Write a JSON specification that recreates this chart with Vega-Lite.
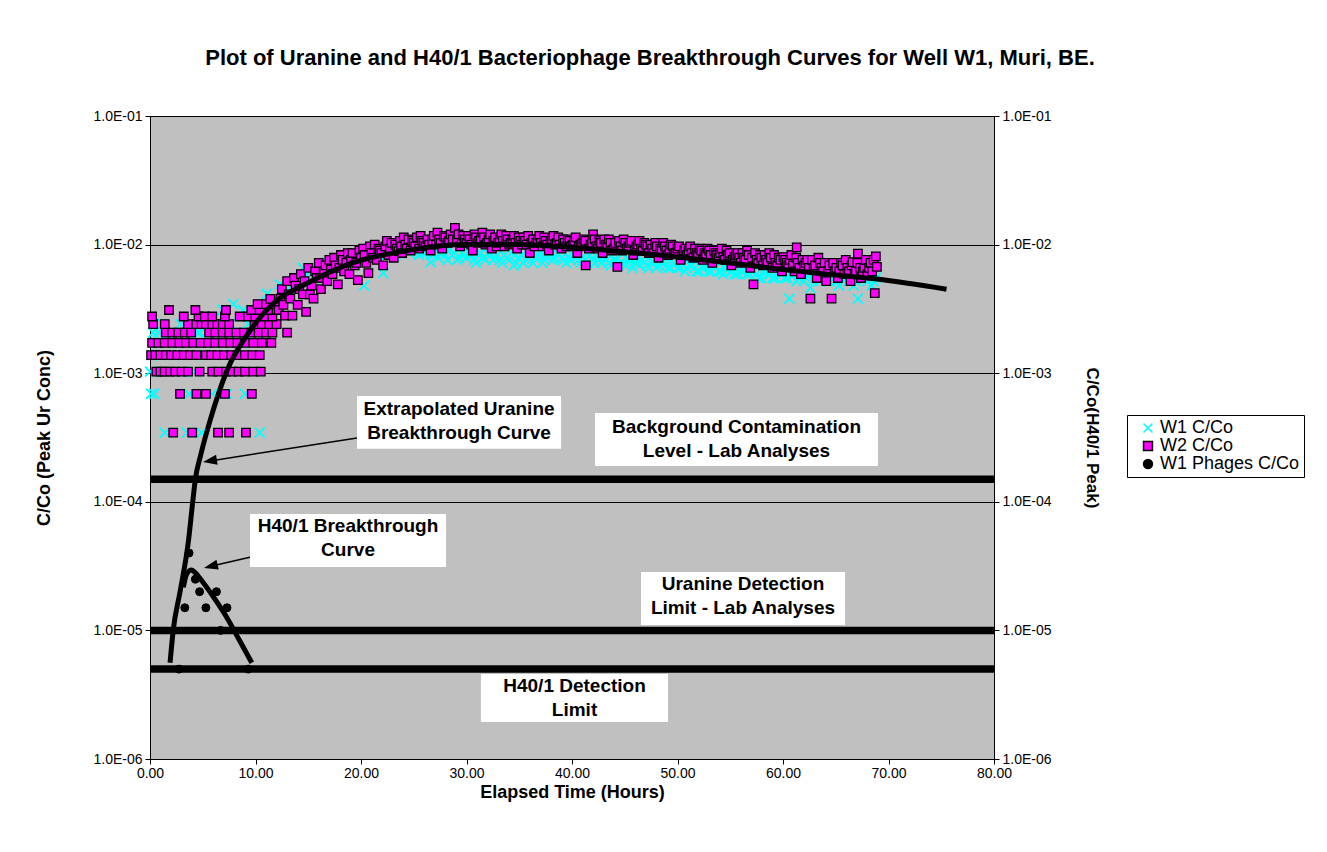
{
"$schema": "https://vega.github.io/schema/vega-lite/v6.json",
"width": 844, "height": 643,
"autosize": {"type": "none"},
"padding": {"left": 150, "top": 116, "right": 333, "bottom": 93},
"background": "white",
"title": {"text": "Plot of Uranine and H40/1 Bacteriophage Breakthrough Curves for Well W1, Muri, BE.", "fontSize": 22, "font": "Liberation Sans", "fontWeight": "bold", "color": "black", "anchor": "middle", "frame": "group", "dx": 78, "offset": 39},
"config": {
  "view": {"stroke": "black", "fill": "#C0C0C0"},
  "axis": {"domainColor": "black", "domainWidth": 1, "tickColor": "black", "labelColor": "black", "titleColor": "black", "labelFont": "Liberation Sans", "titleFont": "Liberation Sans", "labelFontSize": 14, "titleFontSize": 18, "titleFontWeight": "bold", "tickSize": 5, "labelPadding": 3, "labelFlush": false},
  "legend": {"orient": "none", "legendX": 977, "legendY": 299, "strokeColor": "black", "fillColor": "white", "padding": 4, "symbolOffset": 8, "labelOffset": 3, "labelFontSize": 18, "labelFont": "Liberation Sans", "labelColor": "black", "symbolSize": 80, "symbolStrokeWidth": 1.5, "rowPadding": 0}
},
"datasets": {
"w1": [
{"t":0.0,"v":0.00103},{"t":0.1,"v":0.00069},{"t":0.2,"v":0.00138},{"t":0.3,"v":0.00207},{"t":0.4,"v":0.00069},{"t":0.6,"v":0.00172},{"t":0.8,"v":0.00207},{"t":1.0,"v":0.00138},{"t":1.2,"v":0.00241},{"t":1.4,"v":0.000345},{"t":1.7,"v":0.00172},{"t":2.0,"v":0.00207},{"t":2.3,"v":0.00138},{"t":2.6,"v":0.00172},{"t":2.9,"v":0.00241},{"t":3.2,"v":0.00103},{"t":3.5,"v":0.000345},{"t":3.7,"v":0.00069},{"t":4.0,"v":0.00172},{"t":4.3,"v":0.00103},{"t":4.5,"v":0.00207},{"t":4.7,"v":0.00207},{"t":4.9,"v":0.000345},{"t":5.2,"v":0.00138},{"t":5.5,"v":0.00241},{"t":5.9,"v":0.00069},{"t":6.2,"v":0.00172},{"t":6.6,"v":0.00207},{"t":6.9,"v":0.0031},{"t":7.0,"v":0.00138},{"t":7.3,"v":0.00069},{"t":7.6,"v":0.00241},{"t":7.9,"v":0.00345},{"t":8.3,"v":0.00207},{"t":8.7,"v":0.00172},{"t":8.8,"v":0.0031},{"t":9.0,"v":0.00069},{"t":9.3,"v":0.00241},{"t":9.6,"v":0.00276},{"t":10.0,"v":0.00207},{"t":10.4,"v":0.000345},{"t":10.8,"v":0.0031},{"t":11.1,"v":0.00414},{"t":11.5,"v":0.00345},{"t":11.9,"v":0.0031},
{"t":12.3,"v":0.0049},{"t":12.5,"v":0.0045},{"t":12.7,"v":0.0038},{"t":13.1,"v":0.0041},{"t":13.35,"v":0.0048},{"t":13.6,"v":0.0052},{"t":13.85,"v":0.0055},{"t":14.0,"v":0.0046},{"t":14.25,"v":0.0052},{"t":14.5,"v":0.0066},{"t":14.7,"v":0.0059},{"t":14.9,"v":0.0055},{"t":15.15,"v":0.0062},{"t":15.4,"v":0.005},{"t":15.6,"v":0.0055},{"t":15.8,"v":0.0062},{"t":16.05,"v":0.0066},{"t":16.3,"v":0.0058},{"t":16.5,"v":0.0062},{"t":16.7,"v":0.0069},{"t":16.95,"v":0.0072},{"t":17.2,"v":0.0062},{"t":17.4,"v":0.0066},{"t":17.6,"v":0.007},{"t":17.85,"v":0.0076},{"t":18.1,"v":0.0066},{"t":18.3,"v":0.0072},{"t":18.5,"v":0.0076},{"t":18.75,"v":0.0069},{"t":19.0,"v":0.0072},{"t":19.2,"v":0.0079},{"t":19.4,"v":0.0069},{"t":19.65,"v":0.0076},{"t":19.9,"v":0.0083},{"t":20.1,"v":0.0083},{"t":20.3,"v":0.0048},{"t":20.55,"v":0.0079},{"t":20.8,"v":0.0076},{"t":21.0,"v":0.0083},{"t":21.2,"v":0.0086},{"t":21.45,"v":0.0079},{"t":21.7,"v":0.0083},{"t":21.9,"v":0.0086},{"t":22.1,"v":0.006},{"t":22.35,"v":0.0083},{"t":22.6,"v":0.009},{"t":22.8,"v":0.009},{"t":23.0,"v":0.0086},{"t":23.25,"v":0.0083},{"t":23.5,"v":0.0093},{"t":23.7,"v":0.0086},{"t":23.9,"v":0.009},{"t":24.15,"v":0.0093},{"t":24.4,"v":0.0097},{"t":24.6,"v":0.0086},{"t":24.8,"v":0.0093},{"t":25.05,"v":0.009},{"t":25.3,"v":0.01},{"t":25.5,"v":0.0083},{"t":25.7,"v":0.009},{"t":25.95,"v":0.0086},{"t":26.2,"v":0.0086},{"t":26.4,"v":0.009},{"t":26.6,"v":0.0073},{"t":26.85,"v":0.0083},{"t":27.1,"v":0.009},{"t":27.3,"v":0.0079},{"t":27.5,"v":0.0086},{"t":27.75,"v":0.0086},{"t":28.0,"v":0.0083},{"t":28.2,"v":0.0076},{"t":28.4,"v":0.0093},{"t":28.65,"v":0.0083},{"t":28.9,"v":0.0086},{"t":29.1,"v":0.0076},{"t":29.3,"v":0.0079},{"t":29.55,"v":0.0086},{"t":29.8,"v":0.0083},{"t":30.0,"v":0.0079},{"t":30.2,"v":0.0086},{"t":30.45,"v":0.0083},{"t":30.7,"v":0.0076},{"t":30.9,"v":0.0072},{"t":31.1,"v":0.0083},{"t":31.35,"v":0.0086},{"t":31.6,"v":0.0079},{"t":31.8,"v":0.0076},{"t":32.0,"v":0.0086},{"t":32.25,"v":0.0083},{"t":32.5,"v":0.0076},{"t":32.7,"v":0.0079},{"t":32.9,"v":0.0083},{"t":33.15,"v":0.0076},{"t":33.4,"v":0.0072},{"t":33.6,"v":0.0083},{"t":33.8,"v":0.0079},{"t":34.05,"v":0.0076},{"t":34.3,"v":0.0086},{"t":34.5,"v":0.0069},{"t":34.7,"v":0.0072},{"t":34.95,"v":0.0079},{"t":35.2,"v":0.0083},{"t":35.4,"v":0.0072},{"t":35.6,"v":0.0076},{"t":35.85,"v":0.0079},{"t":36.1,"v":0.0083},{"t":36.3,"v":0.0072},{"t":36.5,"v":0.0079},{"t":36.75,"v":0.0083},{"t":37.0,"v":0.0086},{"t":37.2,"v":0.0072},{"t":37.4,"v":0.0076},{"t":37.65,"v":0.0079},{"t":37.9,"v":0.0083},{"t":38.1,"v":0.0076},{"t":38.3,"v":0.0079},{"t":38.55,"v":0.0086},{"t":38.8,"v":0.0083},{"t":39.0,"v":0.0079},{"t":39.2,"v":0.0076},{"t":39.45,"v":0.0072},{"t":39.7,"v":0.008},{"t":39.9,"v":0.0076},{"t":40.1,"v":0.0083},{"t":40.35,"v":0.0079},{"t":40.6,"v":0.0076},{"t":40.8,"v":0.0072},{"t":41.0,"v":0.0079},{"t":41.25,"v":0.0076},{"t":41.5,"v":0.0072},{"t":41.7,"v":0.0083},{"t":41.9,"v":0.0076},{"t":42.15,"v":0.0072},{"t":42.4,"v":0.008},{"t":42.6,"v":0.0076},{"t":42.8,"v":0.0072},{"t":43.05,"v":0.0079},{"t":43.3,"v":0.0076},{"t":43.5,"v":0.0072},{"t":43.7,"v":0.0069},{"t":43.95,"v":0.0076},{"t":44.2,"v":0.0076},{"t":44.4,"v":0.0069},{"t":44.6,"v":0.0072},{"t":44.85,"v":0.0072},{"t":45.1,"v":0.0069},{"t":45.3,"v":0.0076},{"t":45.5,"v":0.0076},{"t":45.75,"v":0.0066},{"t":46.0,"v":0.0072},{"t":46.2,"v":0.0072},{"t":46.4,"v":0.0069},{"t":46.65,"v":0.0076},{"t":46.9,"v":0.0073},{"t":47.1,"v":0.0069},{"t":47.3,"v":0.0066},{"t":47.55,"v":0.0072},{"t":47.8,"v":0.0072},{"t":48.0,"v":0.0066},{"t":48.2,"v":0.0069},{"t":48.45,"v":0.0072},{"t":48.7,"v":0.0072},{"t":48.9,"v":0.0069},{"t":49.1,"v":0.0066},{"t":49.35,"v":0.0066},{"t":49.6,"v":0.007},{"t":49.8,"v":0.0072},{"t":50.0,"v":0.0066},{"t":50.25,"v":0.0066},{"t":50.5,"v":0.0069},{"t":50.7,"v":0.0062},{"t":50.9,"v":0.0066},{"t":51.15,"v":0.0069},{"t":51.4,"v":0.0069},{"t":51.6,"v":0.0066},{"t":51.8,"v":0.0062},{"t":52.05,"v":0.0062},{"t":52.3,"v":0.0066},{"t":52.5,"v":0.0066},{"t":52.7,"v":0.0069},{"t":52.95,"v":0.0062},{"t":53.2,"v":0.0062},{"t":53.4,"v":0.0069},{"t":53.6,"v":0.0066},{"t":53.85,"v":0.0062},{"t":54.1,"v":0.0062},{"t":54.3,"v":0.0059},{"t":54.5,"v":0.0066},{"t":54.75,"v":0.0066},{"t":55.0,"v":0.0062},{"t":55.2,"v":0.0062},{"t":55.4,"v":0.0059},{"t":55.65,"v":0.0059},{"t":55.9,"v":0.0066},{"t":56.1,"v":0.0062},{"t":56.3,"v":0.0062},{"t":56.55,"v":0.0059},{"t":56.8,"v":0.0059},{"t":57.0,"v":0.0062},{"t":57.2,"v":0.0062},{"t":57.45,"v":0.0059},{"t":57.7,"v":0.0055},{"t":57.9,"v":0.0055},{"t":58.1,"v":0.0062},{"t":58.35,"v":0.0062},{"t":58.6,"v":0.0059},{"t":58.8,"v":0.0059},{"t":59.0,"v":0.0055},{"t":59.25,"v":0.0055},{"t":59.5,"v":0.0062},{"t":59.7,"v":0.0059},{"t":59.9,"v":0.0059},{"t":60.15,"v":0.0055},{"t":60.4,"v":0.0055},{"t":60.6,"v":0.0038},{"t":60.85,"v":0.0059},{"t":61.1,"v":0.0059},{"t":61.3,"v":0.0052},{"t":61.5,"v":0.0055},{"t":61.75,"v":0.0059},{"t":62.0,"v":0.0052},{"t":62.2,"v":0.0055},{"t":62.4,"v":0.0059},{"t":62.6,"v":0.0046},{"t":62.85,"v":0.0052},{"t":63.1,"v":0.0055},{"t":63.3,"v":0.0059},{"t":63.5,"v":0.0052},{"t":63.75,"v":0.0055},{"t":64.0,"v":0.0059},{"t":64.2,"v":0.0052},{"t":64.4,"v":0.0052},{"t":64.65,"v":0.0059},{"t":64.9,"v":0.0055},{"t":65.1,"v":0.0052},{"t":65.3,"v":0.0048},{"t":65.55,"v":0.0055},{"t":65.8,"v":0.0055},{"t":66.0,"v":0.0059},{"t":66.2,"v":0.0052},{"t":66.45,"v":0.0055},{"t":66.7,"v":0.0048},{"t":66.9,"v":0.0052},{"t":67.1,"v":0.0038},{"t":67.3,"v":0.0059},{"t":67.5,"v":0.0055},{"t":67.75,"v":0.0055},{"t":68.0,"v":0.0052},{"t":68.2,"v":0.0059},{"t":68.4,"v":0.0048},{"t":68.6,"v":0.0052},{"t":68.8,"v":0.0055}
],
"w2": [
{"t":2.2,"v":0.000345},{"t":4.0,"v":0.000345},{"t":6.45,"v":0.000345},{"t":7.5,"v":0.000345},{"t":9.1,"v":0.000345},
{"t":2.85,"v":0.00069},{"t":4.4,"v":0.00069},{"t":5.3,"v":0.00069},{"t":7.1,"v":0.00069},{"t":9.65,"v":0.00069},
{"t":0.6,"v":0.00103},{"t":1.0,"v":0.00103},{"t":1.4,"v":0.00103},{"t":1.9,"v":0.00103},{"t":2.4,"v":0.00103},{"t":3.0,"v":0.00103},{"t":3.6,"v":0.00103},{"t":4.7,"v":0.00103},{"t":5.9,"v":0.00103},{"t":6.5,"v":0.00103},{"t":7.2,"v":0.00103},{"t":7.8,"v":0.00103},{"t":8.4,"v":0.00103},{"t":9.0,"v":0.00103},{"t":9.8,"v":0.00103},{"t":10.5,"v":0.00103},
{"t":0.1,"v":0.00138},{"t":0.5,"v":0.00138},{"t":1.0,"v":0.00138},{"t":1.5,"v":0.00138},{"t":2.0,"v":0.00138},{"t":2.6,"v":0.00138},{"t":3.2,"v":0.00138},{"t":3.8,"v":0.00138},{"t":4.4,"v":0.00138},{"t":5.3,"v":0.00138},{"t":5.8,"v":0.00138},{"t":6.4,"v":0.00138},{"t":7.0,"v":0.00138},{"t":7.7,"v":0.00138},{"t":8.3,"v":0.00138},{"t":9.0,"v":0.00138},{"t":9.7,"v":0.00138},{"t":10.4,"v":0.00138},
{"t":0.2,"v":0.00172},{"t":0.8,"v":0.00172},{"t":1.4,"v":0.00172},{"t":2.1,"v":0.00172},{"t":2.8,"v":0.00172},{"t":3.4,"v":0.00172},{"t":4.1,"v":0.00172},{"t":4.8,"v":0.00172},{"t":5.5,"v":0.00172},{"t":6.2,"v":0.00172},{"t":6.9,"v":0.00172},{"t":7.6,"v":0.00172},{"t":8.3,"v":0.00172},{"t":9.0,"v":0.00172},{"t":9.8,"v":0.00172},{"t":10.6,"v":0.00172},{"t":11.5,"v":0.00172},
{"t":1.5,"v":0.00207},{"t":2.1,"v":0.00207},{"t":2.7,"v":0.00207},{"t":3.3,"v":0.00207},{"t":3.9,"v":0.00207},{"t":5.6,"v":0.00207},{"t":6.2,"v":0.00207},{"t":6.9,"v":0.00207},{"t":7.5,"v":0.00207},{"t":8.2,"v":0.00207},{"t":8.9,"v":0.00207},{"t":9.6,"v":0.00207},{"t":10.3,"v":0.00207},{"t":11.0,"v":0.00207},{"t":11.6,"v":0.00207},{"t":13.0,"v":0.00207},
{"t":0.3,"v":0.00241},{"t":1.4,"v":0.00241},{"t":3.6,"v":0.00241},{"t":4.4,"v":0.00241},{"t":4.9,"v":0.00241},{"t":5.3,"v":0.00241},{"t":5.9,"v":0.00241},{"t":6.4,"v":0.00241},{"t":6.9,"v":0.00241},{"t":7.5,"v":0.00241},{"t":9.9,"v":0.00241},{"t":10.6,"v":0.00241},{"t":11.3,"v":0.00241},{"t":12.0,"v":0.00241},
{"t":0.2,"v":0.00276},{"t":3.2,"v":0.00276},{"t":4.6,"v":0.00276},{"t":5.2,"v":0.00276},{"t":5.9,"v":0.00276},{"t":7.1,"v":0.00276},{"t":8.5,"v":0.00276},{"t":9.3,"v":0.00276},{"t":10.0,"v":0.00276},{"t":10.8,"v":0.00276},{"t":11.6,"v":0.00276},
{"t":1.8,"v":0.0031},{"t":4.3,"v":0.0031},{"t":7.2,"v":0.0031},{"t":9.6,"v":0.0031},{"t":10.4,"v":0.0031},{"t":11.2,"v":0.0031},{"t":12.0,"v":0.0031},
{"t":10.2,"v":0.00345},{"t":11.0,"v":0.00345},{"t":11.8,"v":0.00345},{"t":11.4,"v":0.00379},
{"t":12.2,"v":0.0031},{"t":12.35,"v":0.0038},{"t":12.5,"v":0.0045},{"t":12.65,"v":0.0034},{"t":12.8,"v":0.0028},{"t":13.0,"v":0.0052},{"t":13.15,"v":0.0041},{"t":13.3,"v":0.0038},{"t":13.5,"v":0.0028},{"t":13.65,"v":0.0055},{"t":13.8,"v":0.0048},{"t":14.0,"v":0.0034},{"t":14.15,"v":0.0045},{"t":14.3,"v":0.0059},{"t":14.5,"v":0.0041},{"t":14.65,"v":0.0052},{"t":14.8,"v":0.003},{"t":15.0,"v":0.0066},{"t":15.15,"v":0.0041},{"t":15.3,"v":0.0048},{"t":15.5,"v":0.0038},{"t":15.65,"v":0.0062},{"t":15.8,"v":0.0055},{"t":16.0,"v":0.0072},{"t":16.1,"v":0.0055},{"t":16.2,"v":0.0045},{"t":16.5,"v":0.0062},{"t":16.65,"v":0.0069},{"t":16.8,"v":0.0052},{"t":17.0,"v":0.0076},{"t":17.15,"v":0.0064},{"t":17.3,"v":0.0059},{"t":17.45,"v":0.0079},{"t":17.6,"v":0.0069},{"t":17.8,"v":0.0049},{"t":17.95,"v":0.0066},{"t":18.1,"v":0.0083},{"t":18.25,"v":0.0076},{"t":18.4,"v":0.0062},{"t":18.6,"v":0.0072},{"t":18.75,"v":0.0086},{"t":18.9,"v":0.0059},{"t":19.05,"v":0.0076},{"t":19.2,"v":0.0086},{"t":19.4,"v":0.0069},{"t":19.55,"v":0.0072},{"t":19.7,"v":0.0053},{"t":19.85,"v":0.009},{"t":20.0,"v":0.0079},{"t":20.2,"v":0.0093},{"t":20.35,"v":0.0083},{"t":20.5,"v":0.0072},{"t":20.7,"v":0.006},{"t":20.85,"v":0.0097},{"t":21.0,"v":0.0086},{"t":21.15,"v":0.0079},{"t":21.3,"v":0.01},{"t":21.5,"v":0.0076},{"t":21.65,"v":0.0093},{"t":21.8,"v":0.009},{"t":21.95,"v":0.0086},{"t":22.1,"v":0.0069},{"t":22.3,"v":0.0097},{"t":22.45,"v":0.0107},{"t":22.6,"v":0.0083},{"t":22.75,"v":0.0093},{"t":22.9,"v":0.0103},{"t":23.1,"v":0.0079},{"t":23.25,"v":0.01},{"t":23.4,"v":0.0093},{"t":23.55,"v":0.0089},{"t":23.7,"v":0.0107},{"t":23.8,"v":0.0097},{"t":23.9,"v":0.0086},{"t":24.05,"v":0.0114},{"t":24.2,"v":0.01},{"t":24.35,"v":0.0093},{"t":24.5,"v":0.011},{"t":24.7,"v":0.009},{"t":24.85,"v":0.0107},{"t":25.0,"v":0.0103},{"t":25.15,"v":0.0097},{"t":25.3,"v":0.0114},{"t":25.5,"v":0.0093},{"t":25.65,"v":0.0117},{"t":25.8,"v":0.0107},{"t":25.95,"v":0.0103},{"t":26.1,"v":0.0097},{"t":26.3,"v":0.011},{"t":26.45,"v":0.01},{"t":26.6,"v":0.009},{"t":26.75,"v":0.0107},{"t":26.9,"v":0.0117},{"t":27.1,"v":0.01},{"t":27.25,"v":0.0124},{"t":27.4,"v":0.011},{"t":27.55,"v":0.0103},{"t":27.7,"v":0.0093},{"t":27.85,"v":0.0117},{"t":28.0,"v":0.0114},{"t":28.2,"v":0.0103},{"t":28.35,"v":0.0107},{"t":28.5,"v":0.012},{"t":28.7,"v":0.011},{"t":28.9,"v":0.0135},{"t":29.1,"v":0.0107},{"t":29.25,"v":0.012},{"t":29.4,"v":0.0097},{"t":29.55,"v":0.0103},{"t":29.7,"v":0.0117},{"t":29.85,"v":0.011},{"t":30.0,"v":0.0103},{"t":30.15,"v":0.0117},{"t":30.3,"v":0.011},{"t":30.45,"v":0.01},{"t":30.6,"v":0.009},{"t":30.75,"v":0.012},{"t":30.9,"v":0.0114},{"t":31.05,"v":0.0103},{"t":31.2,"v":0.0107},{"t":31.35,"v":0.011},{"t":31.5,"v":0.0124},{"t":31.65,"v":0.0114},{"t":31.8,"v":0.01},{"t":31.95,"v":0.0103},{"t":32.1,"v":0.011},{"t":32.25,"v":0.012},{"t":32.4,"v":0.0093},{"t":32.55,"v":0.0107},{"t":32.7,"v":0.0114},{"t":32.85,"v":0.0097},{"t":33.0,"v":0.0103},{"t":33.15,"v":0.011},{"t":33.3,"v":0.012},{"t":33.45,"v":0.0107},{"t":33.6,"v":0.0097},{"t":33.75,"v":0.0117},{"t":33.9,"v":0.011},{"t":34.05,"v":0.01},{"t":34.2,"v":0.0103},{"t":34.35,"v":0.011},{"t":34.5,"v":0.0117},{"t":34.65,"v":0.0103},{"t":34.8,"v":0.0093},{"t":34.95,"v":0.0114},{"t":35.1,"v":0.0107},{"t":35.25,"v":0.01},{"t":35.4,"v":0.0114},{"t":35.55,"v":0.0107},{"t":35.7,"v":0.01},{"t":35.85,"v":0.0117},{"t":36.0,"v":0.0086},{"t":36.15,"v":0.0103},{"t":36.3,"v":0.011},{"t":36.45,"v":0.0097},{"t":36.6,"v":0.0103},{"t":36.75,"v":0.011},{"t":36.9,"v":0.0117},{"t":37.05,"v":0.0103},{"t":37.2,"v":0.0097},{"t":37.35,"v":0.0114},{"t":37.5,"v":0.0107},{"t":37.65,"v":0.01},{"t":37.8,"v":0.009},{"t":37.95,"v":0.0107},{"t":38.1,"v":0.011},{"t":38.25,"v":0.0117},{"t":38.4,"v":0.01},{"t":38.55,"v":0.0103},{"t":38.7,"v":0.0114},{"t":38.85,"v":0.01},{"t":39.0,"v":0.0093},{"t":39.15,"v":0.011},{"t":39.3,"v":0.0103},{"t":39.45,"v":0.0097},{"t":39.6,"v":0.011},{"t":39.75,"v":0.0107},{"t":39.9,"v":0.0097},{"t":40.05,"v":0.01},{"t":40.2,"v":0.0107},{"t":40.35,"v":0.0114},{"t":40.5,"v":0.0086},{"t":40.65,"v":0.0097},{"t":40.8,"v":0.01},{"t":40.95,"v":0.0103},{"t":41.1,"v":0.011},{"t":41.25,"v":0.0107},{"t":41.3,"v":0.0069},{"t":41.6,"v":0.0093},{"t":41.75,"v":0.01},{"t":41.9,"v":0.0103},{"t":42.0,"v":0.012},{"t":42.15,"v":0.011},{"t":42.3,"v":0.0097},{"t":42.45,"v":0.0093},{"t":42.6,"v":0.0107},{"t":42.75,"v":0.0103},{"t":42.9,"v":0.0086},{"t":43.05,"v":0.011},{"t":43.2,"v":0.01},{"t":43.35,"v":0.0097},{"t":43.5,"v":0.011},{"t":43.65,"v":0.0103},{"t":43.8,"v":0.009},{"t":43.95,"v":0.0093},{"t":44.1,"v":0.0103},{"t":44.3,"v":0.0067},{"t":44.45,"v":0.0107},{"t":44.6,"v":0.0097},{"t":44.75,"v":0.009},{"t":44.9,"v":0.011},{"t":45.05,"v":0.0103},{"t":45.2,"v":0.0093},{"t":45.35,"v":0.0097},{"t":45.5,"v":0.0103},{"t":45.65,"v":0.0107},{"t":45.8,"v":0.0083},{"t":45.95,"v":0.009},{"t":46.1,"v":0.0097},{"t":46.25,"v":0.01},{"t":46.4,"v":0.0107},{"t":46.55,"v":0.0093},{"t":46.7,"v":0.009},{"t":46.85,"v":0.0103},{"t":47.0,"v":0.01},{"t":47.15,"v":0.0097},{"t":47.3,"v":0.0086},{"t":47.45,"v":0.01},{"t":47.6,"v":0.0093},{"t":47.75,"v":0.0086},{"t":47.9,"v":0.0103},{"t":48.05,"v":0.0097},{"t":48.2,"v":0.0079},{"t":48.35,"v":0.0093},{"t":48.5,"v":0.009},{"t":48.65,"v":0.0103},{"t":48.8,"v":0.0097},{"t":48.95,"v":0.009},{"t":49.1,"v":0.0083},{"t":49.25,"v":0.0093},{"t":49.4,"v":0.01},{"t":49.55,"v":0.0097},{"t":49.7,"v":0.0086},{"t":49.85,"v":0.0086},{"t":50.0,"v":0.0093},{"t":50.15,"v":0.0097},{"t":50.3,"v":0.0076},{"t":50.45,"v":0.0083},{"t":50.6,"v":0.009},{"t":50.75,"v":0.0093},{"t":50.9,"v":0.0083},{"t":51.05,"v":0.009},{"t":51.2,"v":0.0097},{"t":51.35,"v":0.0086},{"t":51.5,"v":0.0079},{"t":51.65,"v":0.0093},{"t":51.8,"v":0.0086},{"t":51.95,"v":0.0083},{"t":52.1,"v":0.0093},{"t":52.25,"v":0.009},{"t":52.4,"v":0.0076},{"t":52.55,"v":0.0086},{"t":52.7,"v":0.0083},{"t":52.85,"v":0.0093},{"t":53.0,"v":0.009},{"t":53.15,"v":0.0083},{"t":53.3,"v":0.0072},{"t":53.45,"v":0.009},{"t":53.6,"v":0.0086},{"t":53.75,"v":0.0083},{"t":53.9,"v":0.0079},{"t":54.05,"v":0.0086},{"t":54.2,"v":0.0093},{"t":54.35,"v":0.008},{"t":54.5,"v":0.0076},{"t":54.65,"v":0.009},{"t":54.8,"v":0.0083},{"t":54.95,"v":0.0086},{"t":55.1,"v":0.0069},{"t":55.25,"v":0.0076},{"t":55.4,"v":0.008},{"t":55.55,"v":0.0083},{"t":55.7,"v":0.0086},{"t":55.85,"v":0.0079},{"t":56.0,"v":0.0072},{"t":56.15,"v":0.0086},{"t":56.3,"v":0.0079},{"t":56.45,"v":0.0076},{"t":56.6,"v":0.009},{"t":56.75,"v":0.0083},{"t":56.9,"v":0.0066},{"t":57.05,"v":0.0079},{"t":57.2,"v":0.0049},{"t":57.35,"v":0.0086},{"t":57.5,"v":0.0076},{"t":57.65,"v":0.0072},{"t":57.8,"v":0.0083},{"t":57.95,"v":0.0079},{"t":58.1,"v":0.0069},{"t":58.25,"v":0.0083},{"t":58.4,"v":0.0076},{"t":58.55,"v":0.0072},{"t":58.7,"v":0.0086},{"t":58.85,"v":0.0079},{"t":59.0,"v":0.0066},{"t":59.15,"v":0.0083},{"t":59.3,"v":0.0072},{"t":59.45,"v":0.0069},{"t":59.6,"v":0.0079},{"t":59.75,"v":0.0076},{"t":59.9,"v":0.0062},{"t":60.05,"v":0.008},{"t":60.2,"v":0.0076},{"t":60.35,"v":0.0072},{"t":60.5,"v":0.0069},{"t":60.65,"v":0.0076},{"t":60.8,"v":0.0083},{"t":60.95,"v":0.0069},{"t":61.1,"v":0.0062},{"t":61.25,"v":0.0079},{"t":61.3,"v":0.0095},{"t":61.4,"v":0.0072},{"t":61.55,"v":0.0066},{"t":61.7,"v":0.0059},{"t":61.85,"v":0.0076},{"t":62.0,"v":0.0069},{"t":62.15,"v":0.0072},{"t":62.3,"v":0.0076},{"t":62.45,"v":0.0066},{"t":62.6,"v":0.0038},{"t":62.75,"v":0.0076},{"t":62.9,"v":0.0066},{"t":63.05,"v":0.0069},{"t":63.2,"v":0.0055},{"t":63.35,"v":0.0079},{"t":63.5,"v":0.0072},{"t":63.65,"v":0.0066},{"t":63.8,"v":0.0062},{"t":63.95,"v":0.0072},{"t":64.1,"v":0.0052},{"t":64.25,"v":0.0062},{"t":64.4,"v":0.0069},{"t":64.6,"v":0.0038},{"t":64.75,"v":0.0072},{"t":64.9,"v":0.0062},{"t":65.05,"v":0.0066},{"t":65.2,"v":0.0055},{"t":65.35,"v":0.0062},{"t":65.5,"v":0.0072},{"t":65.65,"v":0.0069},{"t":65.8,"v":0.0059},{"t":65.95,"v":0.0076},{"t":66.1,"v":0.0066},{"t":66.25,"v":0.0062},{"t":66.4,"v":0.0052},{"t":66.5,"v":0.0069},{"t":66.6,"v":0.0073},{"t":66.8,"v":0.0059},{"t":66.9,"v":0.0062},{"t":67.05,"v":0.0072},{"t":67.1,"v":0.0085},{"t":67.3,"v":0.0066},{"t":67.4,"v":0.0055},{"t":67.55,"v":0.0062},{"t":67.7,"v":0.0066},{"t":67.85,"v":0.0076},{"t":68.0,"v":0.0059},{"t":68.15,"v":0.0066},{"t":68.3,"v":0.0072},{"t":68.45,"v":0.0062},{"t":68.6,"v":0.0076},{"t":68.7,"v":0.0042},{"t":68.8,"v":0.0081},{"t":68.9,"v":0.0067}
],
"ph": [
{"t":2.75,"v":0.000005},{"t":3.3,"v":0.000015},{"t":3.7,"v":0.00004},{"t":4.3,"v":0.000025},{"t":4.7,"v":0.00002},{"t":5.3,"v":0.000015},{"t":6.3,"v":0.00002},{"t":6.7,"v":0.00001},{"t":7.3,"v":0.000015},{"t":9.3,"v":0.000005}
],
"uc": [
{"t":1.9,"v":0.0000056},{"t":2.2,"v":0.00001},{"t":2.85,"v":0.00002},{"t":3.65,"v":0.00005},{"t":4.05,"v":0.0001},{"t":4.3,"v":0.00015},{"t":4.8,"v":0.00023},{"t":5.7,"v":0.00043},{"t":7.3,"v":0.00105},{"t":9.5,"v":0.00215},{"t":11.7,"v":0.0035},{"t":14.9,"v":0.005},{"t":19.2,"v":0.0072},{"t":24.4,"v":0.009},{"t":30,"v":0.01},{"t":35,"v":0.01},{"t":40,"v":0.0095},{"t":45,"v":0.0088},{"t":50,"v":0.008},{"t":55,"v":0.0072},{"t":60,"v":0.0064},{"t":65,"v":0.0058},{"t":68.9,"v":0.0054},{"t":75.5,"v":0.0045}
],
"hc": [
{"t":3.16,"v":0.0000216},{"t":3.4,"v":0.0000265},{"t":3.7,"v":0.000029},{"t":3.95,"v":0.0000295},{"t":4.3,"v":0.000028},{"t":4.8,"v":0.000025},{"t":5.38,"v":0.0000216},{"t":6.3,"v":0.0000168},{"t":7.28,"v":0.0000126},{"t":8.4,"v":0.0000086},{"t":9.65,"v":0.0000056}
],
"lim": [{"v":0.00015},{"v":0.00001},{"v":0.000005}],
"box": [
{"t":19.62,"t2":38.96,"v":0.000665,"v2":0.000258,"tx":29.29,"ty":0.000527,"txt":["Extrapolated Uranine","Breakthrough Curve"]},
{"t":42.18,"t2":69.0,"v":0.000491,"v2":0.00019,"tx":55.59,"ty":0.000382,"txt":["Background Contamination","Level - Lab Analyses"]},
{"t":46.54,"t2":65.88,"v":0.0000284,"v2":0.000011,"tx":56.21,"ty":0.000023,"txt":["Uranine Detection","Limit - Lab Analyses"]},
{"t":31.37,"t2":49.1,"v":0.00000458,"v2":0.00000194,"tx":40.24,"ty":0.0000037,"txt":["H40/1 Detection","Limit"]},
{"t":9.48,"t2":28.06,"v":0.0000804,"v2":0.0000311,"tx":18.77,"ty":0.0000648,"txt":["H40/1 Breakthrough","Curve"]}
],
"arr": [
{"id":1,"t":19.62,"v":0.000313,"t2":5.68,"v2":0.000208},
{"id":2,"t":9.57,"v":0.0000372,"t2":5.76,"v2":0.0000315}
]
},
"resolve": {"axis": {"x": "independent", "y": "independent"}},
"layer": [
{
 "data": {"name": "w1"},
 "mark": {"type": "point", "filled": true, "opacity": 1, "size": 100, "strokeWidth": 1.8},
 "encoding": {
  "x": {"field": "t", "type": "quantitative", "scale": {"domain": [0, 80], "nice": false, "zero": false}, "axis": {"orient": "bottom", "title": "Elapsed Time (Hours)", "values": [0,10,20,30,40,50,60,70,80], "format": ".2f", "grid": false, "labelPadding": 2, "titlePadding": 3}},
  "y": {"field": "v", "type": "quantitative", "scale": {"type": "log", "domain": [0.000001, 0.1], "nice": false}, "axis": {"orient": "left", "title": "C/Co (Peak Ur Conc)", "values": [0.000001,0.00001,0.0001,0.001,0.01,0.1], "labelExpr": "'1.0E-' + format(-round(log(datum.value)/LN10), '02d')", "grid": true, "gridColor": "black", "gridOpacity": 1, "gridWidth": 1, "titlePadding": 39}},
  "shape": {"datum": "W1 C/Co", "type": "nominal", "scale": {"domain": ["W1 C/Co","W2 C/Co","W1 Phages C/Co"], "range": ["M-1,-1L1,1M-1,1L1,-1","square","circle"]}, "legend": {"title": null}},
  "fill": {"datum": "W1 C/Co", "type": "nominal", "scale": {"domain": ["W1 C/Co","W2 C/Co","W1 Phages C/Co"], "range": ["#00FFFF","#FF00FF","#000000"]}, "legend": {"title": null}},
  "stroke": {"datum": "W1 C/Co", "type": "nominal", "scale": {"domain": ["W1 C/Co","W2 C/Co","W1 Phages C/Co"], "range": ["#00FFFF","#000000","#000000"]}, "legend": {"title": null}}
 }
},
{
 "data": {"name": "w2"},
 "mark": {"type": "point", "filled": true, "opacity": 1, "size": 72, "strokeWidth": 1.3},
 "encoding": {
  "x": {"field": "t", "type": "quantitative", "scale": {"domain": [0, 80], "nice": false, "zero": false}, "axis": null},
  "y": {"field": "v", "type": "quantitative", "scale": {"type": "log", "domain": [0.000001, 0.1], "nice": false}, "axis": {"orient": "right", "title": "C/Co(H40/1 Peak)", "titleFontSize": 17, "values": [0.000001,0.00001,0.0001,0.001,0.01,0.1], "labelExpr": "'1.0E-' + format(-round(log(datum.value)/LN10), '02d')", "grid": false, "titlePadding": 31}},
  "shape": {"datum": "W2 C/Co", "type": "nominal", "legend": {"title": null}},
  "fill": {"datum": "W2 C/Co", "type": "nominal", "legend": {"title": null}},
  "stroke": {"datum": "W2 C/Co", "type": "nominal", "legend": {"title": null}}
 }
},
{
 "data": {"name": "ph"},
 "mark": {"type": "point", "filled": true, "opacity": 1, "size": 64, "strokeWidth": 1},
 "encoding": {
  "x": {"field": "t", "type": "quantitative", "scale": {"domain": [0, 80], "nice": false, "zero": false}, "axis": null},
  "y": {"field": "v", "type": "quantitative", "scale": {"type": "log", "domain": [0.000001, 0.1], "nice": false}, "axis": null},
  "shape": {"datum": "W1 Phages C/Co", "type": "nominal", "legend": {"title": null}},
  "fill": {"datum": "W1 Phages C/Co", "type": "nominal", "legend": {"title": null}},
  "stroke": {"datum": "W1 Phages C/Co", "type": "nominal", "legend": {"title": null}}
 }
},
{
 "data": {"name": "lim"},
 "mark": {"type": "rule", "color": "black", "strokeWidth": 7.5},
 "encoding": {
  "y": {"field": "v", "type": "quantitative", "scale": {"type": "log", "domain": [0.000001, 0.1], "nice": false}, "axis": null}
 }
},
{
 "data": {"name": "uc"},
 "mark": {"type": "line", "color": "black", "strokeWidth": 5, "interpolate": "monotone"},
 "encoding": {
  "x": {"field": "t", "type": "quantitative", "scale": {"domain": [0, 80], "nice": false, "zero": false}, "axis": null},
  "y": {"field": "v", "type": "quantitative", "scale": {"type": "log", "domain": [0.000001, 0.1], "nice": false}, "axis": null}
 }
},
{
 "data": {"name": "hc"},
 "mark": {"type": "line", "color": "black", "strokeWidth": 5, "interpolate": "monotone"},
 "encoding": {
  "x": {"field": "t", "type": "quantitative", "scale": {"domain": [0, 80], "nice": false, "zero": false}, "axis": null},
  "y": {"field": "v", "type": "quantitative", "scale": {"type": "log", "domain": [0.000001, 0.1], "nice": false}, "axis": null}
 }
},
{
 "data": {"name": "arr"},
 "mark": {"type": "rule", "color": "black", "strokeWidth": 1.5},
 "encoding": {
  "x": {"field": "t", "type": "quantitative", "scale": {"domain": [0, 80], "nice": false, "zero": false}, "axis": null},
  "y": {"field": "v", "type": "quantitative", "scale": {"type": "log", "domain": [0.000001, 0.1], "nice": false}, "axis": null},
  "x2": {"field": "t2"},
  "y2": {"field": "v2"}
 }
},
{
 "data": {"name": "arr"},
 "transform": [{"filter": "datum.id == 1"}],
 "mark": {"type": "point", "shape": "M0,-1.4L-1,1.4L1,1.4Z", "filled": true, "opacity": 1, "color": "black", "size": 100, "angle": 261},
 "encoding": {
  "x": {"field": "t2", "type": "quantitative", "scale": {"domain": [0, 80], "nice": false, "zero": false}, "axis": null},
  "y": {"field": "v2", "type": "quantitative", "scale": {"type": "log", "domain": [0.000001, 0.1], "nice": false}, "axis": null}
 }
},
{
 "data": {"name": "arr"},
 "transform": [{"filter": "datum.id == 2"}],
 "mark": {"type": "point", "shape": "M0,-1.4L-1,1.4L1,1.4Z", "filled": true, "opacity": 1, "color": "black", "size": 100, "angle": 257},
 "encoding": {
  "x": {"field": "t2", "type": "quantitative", "scale": {"domain": [0, 80], "nice": false, "zero": false}, "axis": null},
  "y": {"field": "v2", "type": "quantitative", "scale": {"type": "log", "domain": [0.000001, 0.1], "nice": false}, "axis": null}
 }
},
{
 "data": {"name": "box"},
 "mark": {"type": "rect", "fill": "white", "stroke": null},
 "encoding": {
  "x": {"field": "t", "type": "quantitative", "scale": {"domain": [0, 80], "nice": false, "zero": false}, "axis": null},
  "x2": {"field": "t2"},
  "y": {"field": "v", "type": "quantitative", "scale": {"type": "log", "domain": [0.000001, 0.1], "nice": false}, "axis": null},
  "y2": {"field": "v2"}
 }
},
{
 "data": {"name": "box"},
 "mark": {"type": "text", "font": "Liberation Sans", "fontSize": 19, "fontWeight": "bold", "color": "black", "align": "center", "baseline": "middle", "lineHeight": 24},
 "encoding": {
  "x": {"field": "tx", "type": "quantitative", "scale": {"domain": [0, 80], "nice": false, "zero": false}, "axis": null},
  "y": {"field": "ty", "type": "quantitative", "scale": {"type": "log", "domain": [0.000001, 0.1], "nice": false}, "axis": null},
  "text": {"field": "txt"}
 }
}
]
}
